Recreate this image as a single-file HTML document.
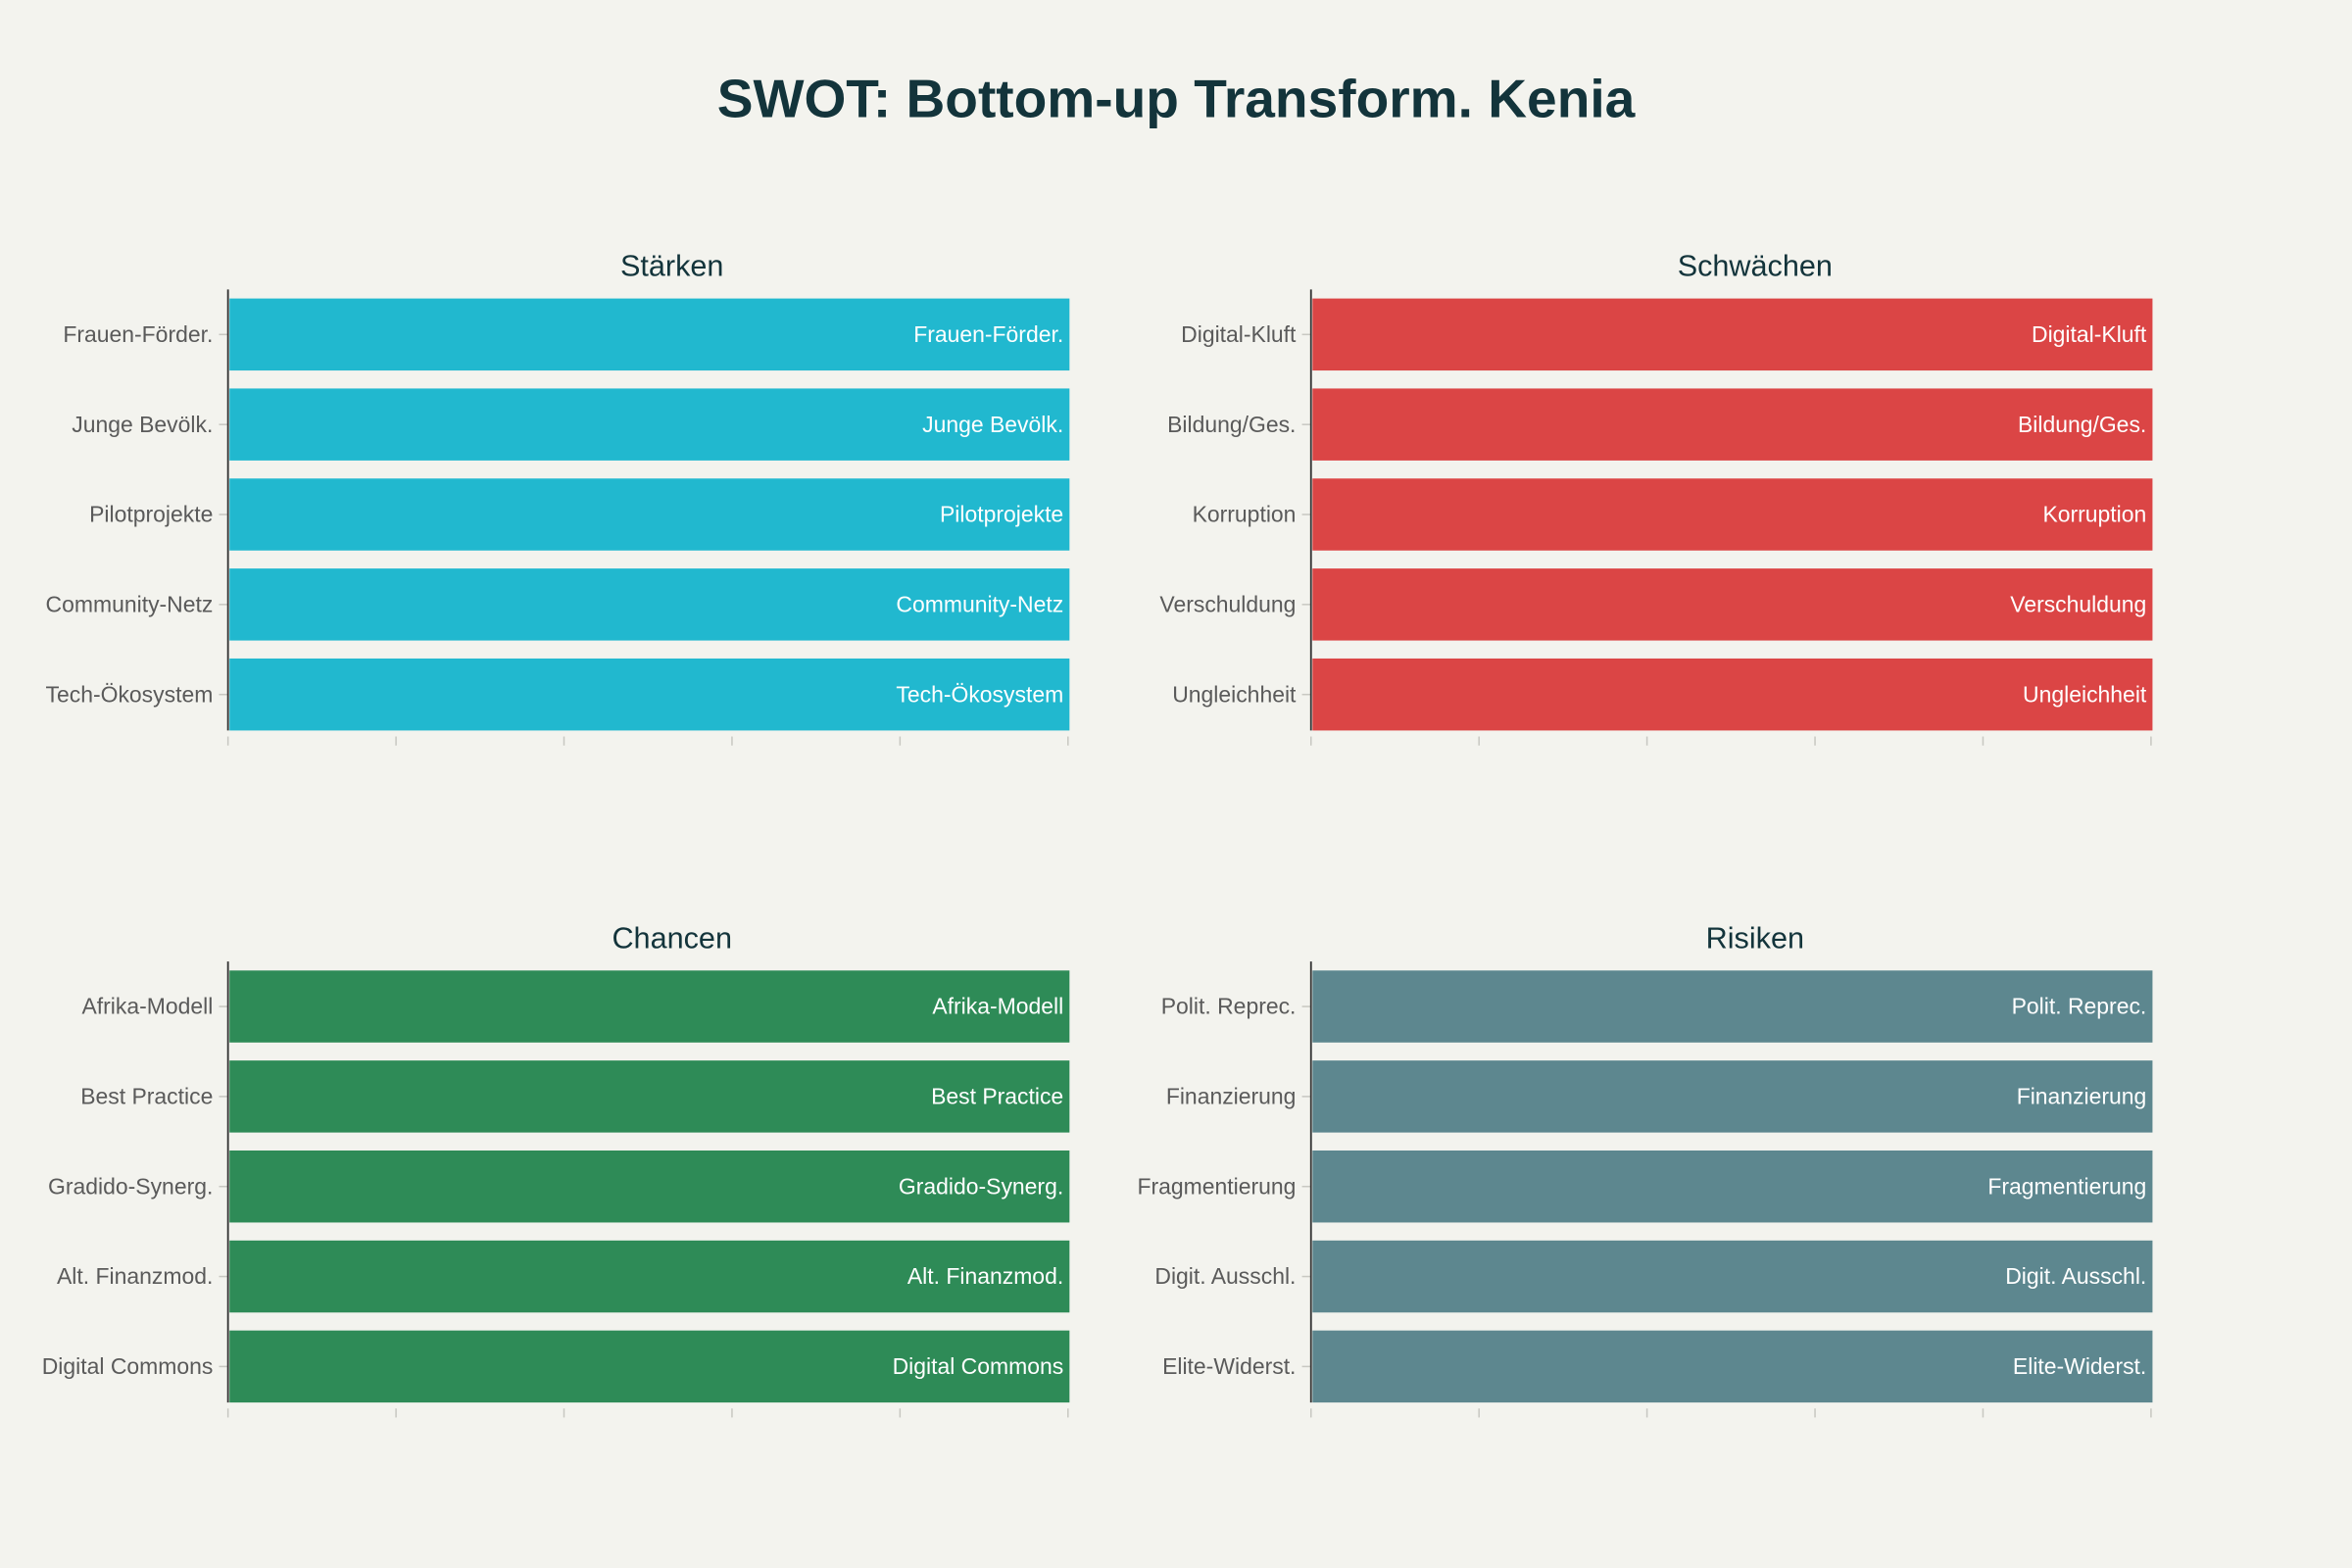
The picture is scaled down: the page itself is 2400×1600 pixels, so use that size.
<!DOCTYPE html>
<html><head><meta charset="utf-8"><style>
html,body{margin:0;padding:0;background:#f3f3ee;}
svg{display:block;font-family:"Liberation Sans",sans-serif;}
</style></head><body>
<svg width="2400" height="1600" viewBox="0 0 1568 1045.33" xmlns="http://www.w3.org/2000/svg">
<rect width="1568" height="1046" fill="#f3f3ee"/>
<text x="784" y="78" text-anchor="middle" font-size="36" font-weight="bold" fill="#13343b">SWOT: Bottom-up Transform. Kenia</text>
<g id="panels"></g>
</svg>
<script>
var P=[
 {x:152,y:193,t:"Stärken",c:"#21b8cf",l:["Frauen-Förder.","Junge Bevölk.","Pilotprojekte","Community-Netz","Tech-Ökosystem"]},
 {x:874,y:193,t:"Schwächen",c:"#db4545",l:["Digital-Kluft","Bildung/Ges.","Korruption","Verschuldung","Ungleichheit"]},
 {x:152,y:641,t:"Chancen",c:"#2e8b57",l:["Afrika-Modell","Best Practice","Gradido-Synerg.","Alt. Finanzmod.","Digital Commons"]},
 {x:874,y:641,t:"Risiken",c:"#5d878f",l:["Polit. Reprec.","Finanzierung","Fragmentierung","Digit. Ausschl.","Elite-Widerst."]}
];
var s="";
P.forEach(function(p){
 s+='<text x="'+(p.x+296)+'" y="'+(p.y-9)+'" text-anchor="middle" font-size="20" fill="#13343b">'+p.t+'</text>';
 for(var i=1;i<=5;i++){var tx=p.x+112*i;s+='<line x1="'+tx+'" x2="'+tx+'" y1="'+(p.y+298)+'" y2="'+(p.y+304)+'" stroke="#c8c8c2" stroke-width="1"/>';}
 s+='<line x1="'+p.x+'" x2="'+p.x+'" y1="'+(p.y+298)+'" y2="'+(p.y+304)+'" stroke="#c8c8c2"/>';
 p.l.forEach(function(l,i){
  var y=p.y+6+60*i;
  s+='<rect x="'+(p.x+1)+'" y="'+y+'" width="560" height="48" fill="'+p.c+'"/>';
  s+='<text x="'+(p.x+557)+'" y="'+(y+29)+'" text-anchor="end" font-size="15" fill="#fff">'+l+'</text>';
  s+='<text x="'+(p.x-10)+'" y="'+(y+29)+'" text-anchor="end" font-size="15" fill="#5a5a5a">'+l+'</text>';
  s+='<line x1="'+(p.x-6)+'" x2="'+p.x+'" y1="'+(y+24)+'" y2="'+(y+24)+'" stroke="#c8c8c2"/>';
 });
 s+='<line x1="'+p.x+'" x2="'+p.x+'" y1="'+p.y+'" y2="'+(p.y+294)+'" stroke="#333" stroke-width="1.2"/>';
});
document.getElementById("panels").innerHTML=s;
</script>
</body></html>
